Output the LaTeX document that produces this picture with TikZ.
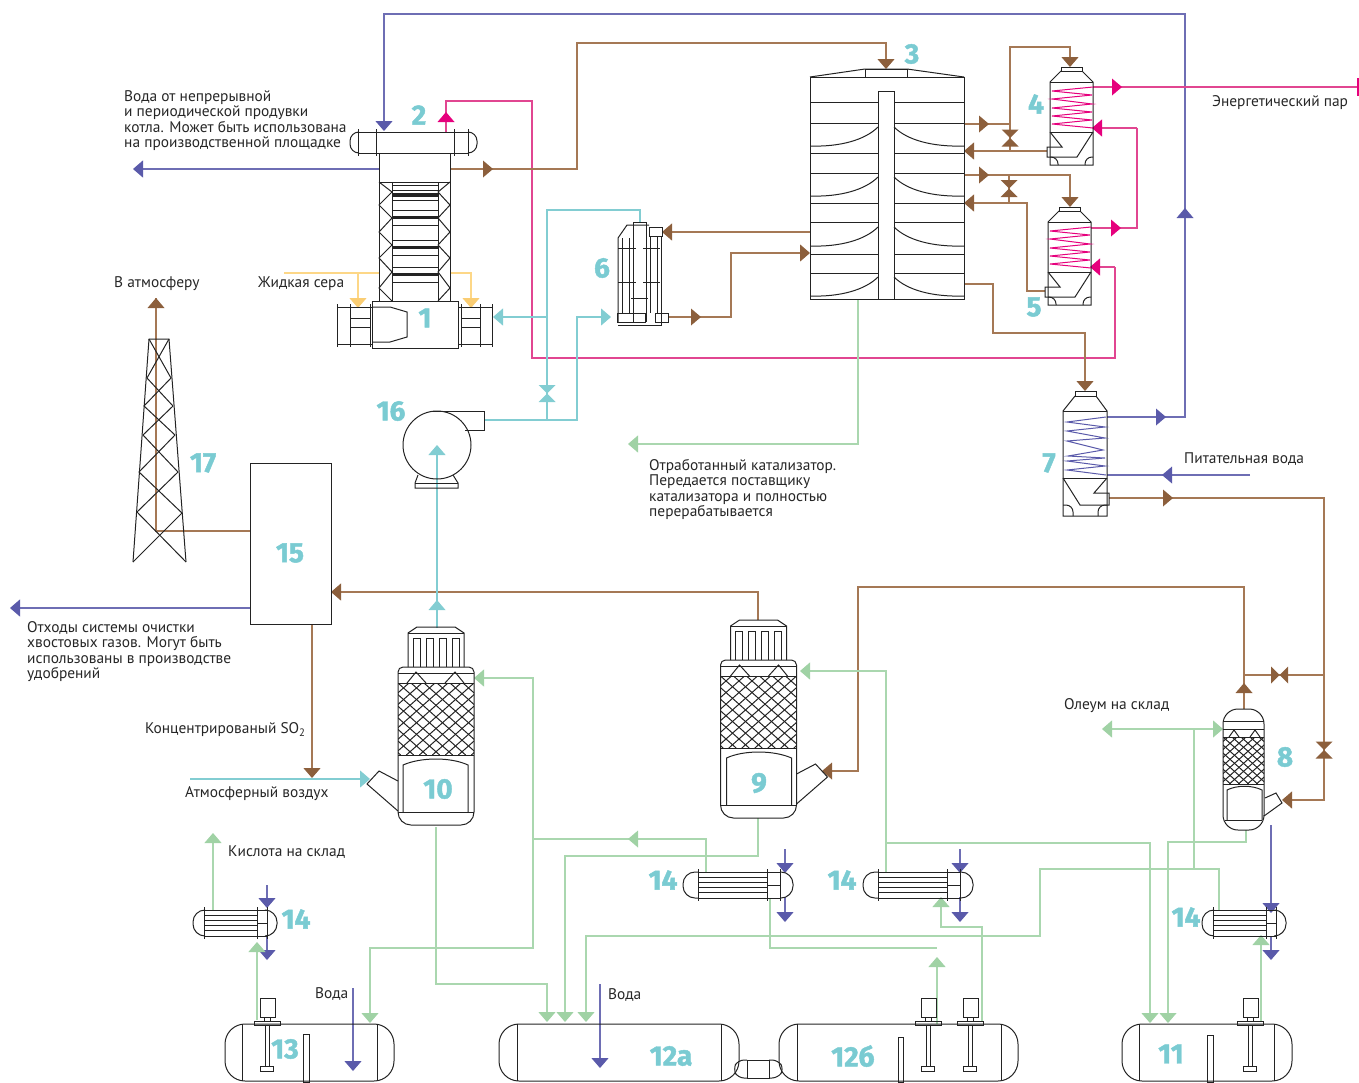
\documentclass[tikz,border=0pt]{standalone}
\usepackage{fontspec}
\setmainfont{PT Sans}
\newfontfamily\numfont[BoldFeatures={FakeBold=1.6}]{Fira Sans}
\usepackage{tikz}
\usetikzlibrary{arrows.meta}
\usepackage{xcolor}
\definecolor{NumTeal}{RGB}{122,203,210}
\definecolor{LineTeal}{RGB}{130,205,210}
\definecolor{LineBrown}{RGB}{165,120,85}
\definecolor{TipBrown}{RGB}{140,95,60}
\definecolor{LineBlue}{RGB}{110,110,180}
\definecolor{TipBlue}{RGB}{90,90,170}
\definecolor{LinePink}{RGB}{225,70,145}
\definecolor{TipPink}{RGB}{230,0,125}
\definecolor{LineGreen}{RGB}{170,215,175}
\definecolor{TipGreen}{RGB}{160,210,165}
\definecolor{LineYellow}{RGB}{253,215,135}
\definecolor{TipYellow}{RGB}{250,205,115}
\definecolor{Metal}{RGB}{35,35,35}

\newcommand{\tri}[3]{\fill[#1, shift={(#2)}, rotate=#3] (0,0) -- (-10,-8.5) -- (-10,8.5) -- cycle;}
\newcommand{\valve}[3]{\fill[#1, shift={(#2)}, rotate=#3] (0,0) -- (-8.5,-8.5) -- (-8.5,8.5) -- cycle (0,0) -- (8.5,-8.5) -- (8.5,8.5) -- cycle;}
\newcommand{\mesh}[5]{%
  \begin{scope}
    \clip (#1,#2) rectangle (#3,#4);
    \foreach \k in {-14,...,14} {
      \draw[metal] ({#1+\k*#5},#2) -- ({#1+\k*#5+(#4-#2)*1.12},#4);
      \draw[metal] ({#3+\k*#5},#2) -- ({#3+\k*#5-(#4-#2)*1.12},#4);
    }
  \end{scope}}
\newcommand{\coiltower}[2]{%
  \begin{scope}[shift={(#1,#2)}]
    \draw[metal] (11,0) rectangle (32,4);
    \draw[metal] (11,4) -- (0,15) -- (0,98) -- (43,98) -- (43,15) -- (32,4);
    \draw[metal] (0,15) -- (43,15) (0,65) -- (43,65);
    \draw[metal] (0,65) -- (12,80) -- (-3,80) -- (-3,90) -- (27,90) -- (43,65);
    \draw[metal, rounded corners=7] (0,90) -- (8,90) -- (8,98);
    \draw[metal, rounded corners=7] (43,90) -- (35,90) -- (35,98);
    \draw[TipPink, line width=1pt] (43,20) -- (2,24) -- (42,28) -- (2,32) -- (42,37) -- (2,41) -- (42,45) -- (2,49) -- (42,53) -- (2,57) -- (43,61);
  \end{scope}}
\newcommand{\absorber}[1]{%
  \begin{scope}[#1]
    \draw[metal] (-28,-158) -- (-28,-192) -- (-19,-198) -- (19,-198) -- (28,-192) -- (28,-158);
    \draw[metal] (-28,-192) -- (28,-192);
    \foreach \a/\b in {-23/-16,-10/-3,3/10,16/23} {
      \draw[metal] (\a,-158) -- (\a,-187) -- (\b,-187) -- (\b,-158);
    }
    \draw[metal, rounded corners=5] (-38,-100) -- (-38,-158) -- (38,-158) -- (38,-100);
    \draw[metal, rounded corners=13] (-38,-100) -- (-38,0) -- (38,0) -- (38,-100);
    \draw[metal] (-38,-152) -- (38,-152) (-38,-142) -- (38,-142) (-38,-70) -- (38,-70) (-38,-13) -- (38,-13);
    \draw[metal] (-29,-142) -- (-20,-153) -- (-10,-142) (9,-142) -- (19,-153) -- (28,-142);
    \mesh{-38}{-142}{38}{-70}{13}
    \draw[metal] (-33,-13) -- (-33,-60) .. controls (-15,-68) and (15,-68) .. (32,-60) -- (32,-13);
    \draw[metal] (-38,-44) -- (-57,-54) -- (-69,-41) -- (-38,-14);
  \end{scope}}
\newcommand{\exchanger}[6]{%
  \draw[metal, rounded corners=12] (#2,#6) -- (#1,#6) -- (#1,#6+26) -- (#2,#6+26);
  \draw[metal, rounded corners=12] (#4,#6) -- (#5,#6) -- (#5,#6+26) -- (#4,#6+26);
  \draw[metal] (#2,#6) -- (#4,#6) (#2,#6+26) -- (#4,#6+26);
  \draw[metal] (#2,#6-3) -- (#2,#6+29) (#3,#6-3) -- (#3,#6+29) (#4,#6-3) -- (#4,#6+29);
  \foreach \d in {5,10,15,20} {\draw[metal] (#2,#6+\d) -- (#3,#6+\d);}
  \draw[metal] (#3,#6+13) -- (#4,#6+13);}
\newcommand{\tank}[4]{%
  \draw[metal, rounded corners=20] (#1,1024) rectangle (#4,1081);
  \draw[metal] (#2,1024) -- (#2,1081) (#3,1024) -- (#3,1081);}
\newcommand{\stirrer}[1]{%
  \draw[metal] (#1-7,998) rectangle (#1+8,1017);
  \draw[metal] (#1-3,1017) rectangle (#1+3,1021);
  \draw[metal] (#1-13,1021) rectangle (#1+13,1025);
  \draw[metal] (#1-2,1025) rectangle (#1+2,1066);
  \draw[metal] (#1-6.5,1066) rectangle (#1+6.5,1071);}

\begin{document}
\begin{tikzpicture}[x=1pt, y=-1pt,
    metal/.style={draw=Metal, line width=1pt},
    bluepipe/.style={draw=LineBlue, line width=1.1pt, -{Triangle[length=10pt,width=17pt,color=TipBlue]}},
    pinkpipe/.style={draw=LinePink, line width=1.1pt, -{Triangle[length=10pt,width=17pt,color=TipPink]}},
    brownpipe/.style={draw=LineBrown, line width=1.1pt, -{Triangle[length=10pt,width=17pt,color=TipBrown]}},
    tealpipe/.style={draw=LineTeal, line width=1.1pt, -{Triangle[length=10pt,width=17pt,color=LineTeal]}},
    greenpipe/.style={draw=LineGreen, line width=1.1pt, -{Triangle[length=10pt,width=17pt,color=TipGreen]}},
    yellowpipe/.style={draw=LineYellow, line width=1.1pt, -{Triangle[length=10pt,width=17pt,color=TipYellow]}},
    numlabel/.style={font=\numfont\bfseries\fontsize{28}{28}\selectfont, text=NumTeal, inner sep=0pt},
    note/.style={font=\fontsize{15.4}{15.6}\selectfont, align=left, anchor=west, inner sep=0pt, text=black!85}
]
    \useasboundingbox (0,0) rectangle (1359,1082);

    \coordinate (b7out) at (1107,417);
    \coordinate (b2in) at (384,131);
    \coordinate (b2out) at (379,169);
    \coordinate (bdrain) at (133,169);
    \coordinate (bfeed) at (1250,475);
    \coordinate (b7in) at (1107,475);
    \coordinate (b15out) at (250,608);
    \coordinate (bwaste) at (10,608);
    \coordinate (p4out) at (1093,87);
    \coordinate (psteam) at (1358,87);
    \coordinate (p4in) at (1092,128);
    \coordinate (p5out) at (1091,228);
    \coordinate (p5in) at (1090,267);
    \coordinate (p2out) at (446,132);
    \coordinate (br2out) at (450,169);
    \coordinate (br3in) at (886,69);
    \coordinate (br3a) at (964,124);
    \coordinate (br4in) at (1070,67);
    \coordinate (br4out) at (1047,151);
    \coordinate (br3b) at (964,151);
    \coordinate (br3c) at (964,175);
    \coordinate (br5in) at (1070,207);
    \coordinate (br5out) at (1045,291);
    \coordinate (br3d) at (964,203);
    \coordinate (br3e) at (964,284);
    \coordinate (br7in) at (1085,391);
    \coordinate (br3f) at (810,232);
    \coordinate (br6in) at (662,232);
    \coordinate (br6out) at (668,317);
    \coordinate (br3g) at (810,253);
    \coordinate (br7out) at (1109,498);
    \coordinate (br8a) at (1282,800);
    \coordinate (br8top) at (1244,709);
    \coordinate (br9b) at (823,771);
    \coordinate (br9top) at (758,620);
    \coordinate (br15in) at (331,592);
    \coordinate (br15out) at (312,624);
    \coordinate (br10a) at (312,778);
    \coordinate (br15b) at (250,531);
    \coordinate (bratm) at (156,298);
    \coordinate (t10out) at (437,628);
    \coordinate (t16in) at (437,445);
    \coordinate (t16out) at (484,420);
    \coordinate (t6a) at (611,317);
    \coordinate (t6b) at (640,223);
    \coordinate (t1in) at (493,317);
    \coordinate (tj) at (547,317);
    \coordinate (tair) at (190,779);
    \coordinate (t10in) at (370,779);
    \coordinate (ysrc) at (284,273);
    \coordinate (y1a) at (358,308);
    \coordinate (y2out) at (450,273);
    \coordinate (y1b) at (471,308);
    \coordinate (g3out) at (858,299);
    \coordinate (gcat) at (628,444);
    \coordinate (gj10) at (533,839);
    \coordinate (g10in) at (474,678);
    \coordinate (g13in) at (370,1023);
    \coordinate (gex1) at (706,872);
    \coordinate (g10out) at (436,827);
    \coordinate (g12a) at (547,1022);
    \coordinate (g9out) at (758,818);
    \coordinate (g12b) at (565,1022);
    \coordinate (g12c) at (586,1022);
    \coordinate (gex4) at (1219,910);
    \coordinate (gex1b) at (770,898);
    \coordinate (gjoin) at (937,948);
    \coordinate (gt12a) at (937,1024);
    \coordinate (gt12tip) at (937,957);
    \coordinate (gt12b) at (982,1021);
    \coordinate (gex2in) at (941,897);
    \coordinate (gex2) at (886,872);
    \coordinate (g9in) at (800,671);
    \coordinate (gj9) at (886,843);
    \coordinate (g11a) at (1150,1023);
    \coordinate (g8out) at (1246,830);
    \coordinate (g11b) at (1168,1023);
    \coordinate (gj8) at (1194,869);
    \coordinate (g8in) at (1223,729);
    \coordinate (gj8b) at (1194,729);
    \coordinate (goleum) at (1102,729);
    \coordinate (gt11) at (1261,1021);
    \coordinate (gex11) at (1261,935);
    \coordinate (gt13) at (257,1020);
    \coordinate (gex13) at (257,942);
    \coordinate (gex13b) at (213,910);
    \coordinate (gacid) at (213,833);

    \draw[bluepipe, -] (b7out) -| (1185,14) -| (384,118);
    \draw[bluepipe] (384,118) -- (b2in);
    \draw[bluepipe] (b2out) -- (bdrain);
    \draw[bluepipe, -] (bfeed) -- (b7in);
    \draw[bluepipe] (b15out) -- (bwaste);
    \draw[bluepipe] (785,849) -- (785,873);
    \draw[bluepipe] (785,897) -- (785,922);
    \draw[bluepipe] (960,849) -- (960,873);
    \draw[bluepipe] (960,897) -- (960,922);
    \draw[bluepipe] (1271,825) -- (1271,913);
    \draw[bluepipe] (1271,936) -- (1271,960);
    \draw[bluepipe] (267,885) -- (267,908);
    \draw[bluepipe] (267,936) -- (267,960);
    \draw[bluepipe] (353,988) -- (353,1071);
    \draw[bluepipe] (600,984) -- (600,1068);
    \tri{TipBlue}{1166,417}{0}
    \tri{TipBlue}{1185,208}{90}
    \tri{TipBlue}{1162,475}{180}

    \draw[pinkpipe, -] (p4out) -- (psteam);
    \draw[TipPink, line width=1.1pt] (1358,78) -- (1358,96);
    \draw[pinkpipe] (1137,128) -- (p4in);
    \draw[pinkpipe, -] (1137,128) |- (p5out);
    \draw[pinkpipe] (1115,267) -- (p5in);
    \draw[pinkpipe, -] (1115,267) |- (532,358) |- (446,101) -- (p2out);
    \tri{TipPink}{1122,87}{0}
    \tri{TipPink}{1121,228}{0}
    \tri{TipPink}{446,112}{90}

    \draw[brownpipe, -] (br2out) -| (577,43) -| (886,60);
    \draw[brownpipe] (886,60) -- (br3in);
    \draw[brownpipe, -] (br3a) -| (1010,47) -| (1070,58);
    \draw[brownpipe] (1070,58) -- (br4in);
    \draw[brownpipe] (br4out) -- (br3b);
    \draw[brownpipe, -] (1010,124) -- (1010,151);
    \draw[brownpipe] (br3c) -| (br5in);
    \draw[brownpipe, -] (1009,175) -- (1009,203);
    \draw[brownpipe] (br5out) -| (1027,203) -- (br3d);
    \draw[brownpipe] (br3e) -| (993,333) -| (br7in);
    \draw[brownpipe] (br3f) -- (br6in);
    \draw[brownpipe] (br6out) -| (731,253) -- (br3g);
    \draw[brownpipe] (br7out) -| (1324,800) -- (br8a);
    \draw[brownpipe, -] (br8top) |- (858,587) |- (br9b);
    \draw[brownpipe, -] (1324,675) -- (1244,675);
    \draw[brownpipe] (br9top) |- (br15in);
    \draw[brownpipe] (br15out) -- (br10a);
    \draw[LineBrown, line width=1.1pt] (br15b) -| (bratm);
    \tri{TipBrown}{156,298}{90}
    \tri{TipBrown}{493,169}{0}
    \tri{TipBrown}{989,124}{0}
    \tri{TipBrown}{989,175}{0}
    \tri{TipBrown}{701,317}{0}
    \tri{TipBrown}{1173,498}{0}
    \tri{TipBrown}{1244,683}{90}
    \tri{TipBrown}{822,771}{180}
    \valve{TipBrown}{1010,138}{90}
    \valve{TipBrown}{1009,188.5}{90}
    \valve{TipBrown}{1324,750}{90}
    \valve{TipBrown}{1279.5,675}{0}

    \draw[tealpipe, -] (t10out) -- (437,456);
    \draw[tealpipe] (437,456) -- (t16in);
    \draw[tealpipe] (t16out) -| (577,317) -- (t6a);
    \draw[tealpipe, -] (547,420) |- (640,210) -- (t6b);
    \draw[tealpipe] (tj) -- (t1in);
    \draw[tealpipe] (tair) -- (t10in);
    \tri{LineTeal}{437,600}{90}
    \valve{LineTeal}{547,393.5}{90}

    \draw[yellowpipe, -] (ysrc) -- (379,273);
    \draw[yellowpipe] (358,273) -- (y1a);
    \draw[yellowpipe] (y2out) -| (y1b);

    \draw[greenpipe] (g3out) |- (gcat);
    \draw[greenpipe] (gj10) |- (g10in);
    \draw[greenpipe] (gj10) -- (533,948) -| (g13in);
    \draw[greenpipe, -] (gj10) -| (gex1);
    \draw[greenpipe] (g10out) -- (436,984) -| (g12a);
    \draw[greenpipe] (g9out) -- (758,856) -| (g12b);
    \draw[greenpipe] (gex4) |- (1040,869) |- (586,936) -- (g12c);
    \draw[greenpipe, -] (gex1b) |- (gjoin);
    \draw[greenpipe] (gt12a) -- (gt12tip);
    \draw[greenpipe] (gt12b) |- (941,927) -- (gex2in);
    \draw[greenpipe] (gex2) |- (g9in);
    \draw[greenpipe] (gj9) -| (g11a);
    \draw[greenpipe] (g8out) -- (1246,842) -| (g11b);
    \draw[greenpipe] (gj8) |- (g8in);
    \draw[greenpipe] (gj8b) -- (goleum);
    \draw[greenpipe] (gt11) -- (gex11);
    \draw[greenpipe] (gt13) -- (gex13);
    \draw[greenpipe] (gex13b) -- (gacid);
    \tri{TipGreen}{628,839}{180}

    \draw[metal] (372,301) rectangle (458,348);
    \draw[metal] (372,307) -- (390,307) -- (407,312) -- (407,337) -- (390,342) -- (372,342);
    \draw[metal] (337,307) -- (372,307) (337,344) -- (372,344) (350,318) -- (370,318) (350,327) -- (370,327);
    \draw[metal] (337,304) -- (337,347) (350,304) -- (350,347) (370,304) -- (370,347);
    \draw[metal] (458,307) -- (492,307) (458,344) -- (492,344) (461,318) -- (480,318) (461,327) -- (480,327);
    \draw[metal] (461,304) -- (461,347) (480,304) -- (480,347) (492,304) -- (492,347);

    \draw[metal, rounded corners=9] (358,132) -- (350,132) -- (350,153) -- (358,153);
    \draw[metal, rounded corners=9] (468,132) -- (477,132) -- (477,153) -- (468,153);
    \draw[metal] (358,132) -- (468,132) (358,153) -- (468,153);
    \draw[metal] (358,129) -- (358,156) (376,129) -- (376,156) (454,129) -- (454,156) (468,129) -- (468,156);
    \draw[metal] (379,153) -- (379,301) (450,153) -- (450,301) (379,182) -- (450,182);
    \draw[metal] (392,182) -- (392,301) (438,182) -- (438,301);
    \draw[metal] (379,182) -- (392,192) -- (379,205) -- (392,218) -- (379,232) -- (392,245) -- (379,258) -- (392,272) -- (379,288) -- (392,301);
    \draw[metal] (450,182) -- (438,192) -- (450,205) -- (438,218) -- (450,232) -- (438,245) -- (450,258) -- (438,272) -- (450,288) -- (438,301);
    \foreach \t in {185,190,200,210,225,240,255,267,282} {
        \draw[metal] (392,\t) -- (438,\t);
    }
    \foreach \t in {195,217.5,247.5,274.5} {
        \draw[metal, line width=3.5pt] (392,\t) -- (438,\t);
    }

    \draw[metal] (810,77) rectangle (964,299);
    \draw[metal] (810,77) -- (865,69) -- (907,69) -- (964,77);
    \draw[metal] (865,69) rectangle (907,77);
    \draw[metal] (878,91) rectangle (894,299);
    \foreach \t in {102,123,153,173,203,222,254,273} {
        \draw[metal] (810,\t) -- (878,\t) (894,\t) -- (964,\t);
    }
    \foreach \t in {127,177,227,277} {
        \draw[metal] (878,\t) .. controls (865,\t+13) and (840,\t+20) .. (810,\t+19);
        \draw[metal] (894,\t) .. controls (907,\t+13) and (932,\t+20) .. (964,\t+19);
    }

    \coiltower{1050}{67}
    \coiltower{1048}{207}

    \draw[metal] (618,322) -- (618,238) -- (627,225) -- (649,225);
    \draw[metal] (661,236) -- (661,325) -- (618,325);
    \draw[metal] (649,227) rectangle (662,236);
    \draw[metal] (633,322) -- (633,222) -- (646,222) -- (646,322);
    \draw[metal] (617,313) rectangle (645,322);
    \draw[metal] (655,313) rectangle (668,322);
    \draw[metal] (622,238) -- (622,313) (629,238) -- (629,313) (650,236) -- (650,313) (657,236) -- (657,313);
    \draw[metal] (618,248) -- (636,248) (643,248) -- (660,248) (618,282) -- (636,282) (643,282) -- (660,282) (631,298) -- (648,298);

    \draw[metal] (437,445) circle[radius=34];
    \draw[metal] (433,411) -- (484,411) -- (484,430) -- (465,430);
    \draw[metal] (418,475) -- (415,483) -- (415,488) -- (458,488) -- (458,483) -- (453,475);
    \draw[metal] (415,483) -- (458,483);

    \draw[metal] (133,562) -- (149,339) -- (169,339) -- (186,562);
    \draw[metal] (149,339) -- (171,378) -- (144,406) -- (175,435) -- (139,472) -- (182,513) -- (133,562);
    \draw[metal] (169,339) -- (147,378) -- (173,406) -- (143,435) -- (178,472) -- (137,512) -- (186,562);

    \draw[metal] (250,463) rectangle (331,624);

    \absorber{shift={(436,825)}}
    \absorber{shift={(758.5,818)}, xscale=-1}

    \draw[metal, rounded corners=15] (1223,770) -- (1223,709) -- (1264,709) -- (1264,770);
    \draw[metal, rounded corners=15] (1223,770) -- (1223,830) -- (1264,830) -- (1264,770);
    \draw[metal] (1223,721) -- (1264,721) (1223,729) -- (1264,729) (1223,737) -- (1264,737) (1223,784) -- (1264,784) (1225,820) -- (1262,820);
    \draw[metal] (1229,737) -- (1234,730) -- (1239,737) (1250,737) -- (1255,730) -- (1260,737);
    \mesh{1223}{737}{1264}{784}{9}
    \draw[metal] (1227,820) -- (1227,790) .. controls (1237,785) and (1252,785) .. (1262,790) -- (1262,820);
    \draw[metal] (1265,798) -- (1276,793) -- (1282,803) -- (1264,816);

    \draw[metal] (1075,391) rectangle (1096,396);
    \draw[metal] (1075,396) -- (1063,411) -- (1063,516) -- (1107,516) -- (1107,411) -- (1096,396);
    \draw[metal] (1063,411) -- (1107,411) (1063,478) -- (1107,478);
    \draw[metal] (1063,478) -- (1080,505) -- (1109,505) -- (1109,493) -- (1094,493) -- (1107,478);
    \draw[metal, rounded corners=7] (1063,505) -- (1073,505) -- (1073,516);
    \draw[metal, rounded corners=7] (1107,505) -- (1098,505) -- (1098,516);
    \draw[TipBlue, line width=1pt] (1106,417) -- (1067,422) -- (1105,427) -- (1067,431) -- (1105,438) -- (1067,441) -- (1103,450) -- (1068,456) -- (1105,458) -- (1067,461) -- (1105,466) -- (1067,470) -- (1106,475);

    \exchanger{683}{698}{767}{780}{793}{872}
    \exchanger{863}{878}{947}{960}{973}{872}
    \exchanger{193}{204}{257}{267}{277}{910}
    \exchanger{1202}{1213}{1266}{1276}{1286}{910}

    \tank{225}{242}{377}{394}
    \draw[metal] (303,1034) rectangle (309,1082);
    \stirrer{267}

    \tank{499}{517}{721}{739}
    \draw[metal, rounded corners=6] (747,1060) -- (738,1060) -- (733,1069) -- (738,1078) -- (747,1078);
    \draw[metal, rounded corners=6] (769,1060) -- (778,1060) -- (784,1069) -- (778,1078) -- (769,1078);
    \draw[metal] (747,1060) rectangle (769,1078);
    \tank{779}{797}{1001}{1018}
    \draw[metal] (898,1037) rectangle (903,1082);
    \stirrer{928}
    \stirrer{970}

    \tank{1122}{1139}{1274}{1292}
    \draw[metal] (1207,1035) rectangle (1213,1082);
    \stirrer{1250}

    \node[numlabel] (n1) at (425,318) {1};
    \node[numlabel] (n2) at (419,115) {2};
    \node[numlabel] (n3) at (912,54) {3};
    \node[numlabel] (n4) at (1036,104) {4};
    \node[numlabel] (n5) at (1034,307) {5};
    \node[numlabel] (n6) at (602,268) {6};
    \node[numlabel] (n7) at (1049,463) {7};
    \node[numlabel] (n8) at (1285,757) {8};
    \node[numlabel] (n9) at (759,783) {9};
    \node[numlabel] (n10) at (438,789) {10};
    \node[numlabel] (n11) at (1171,1054) {11};
    \node[numlabel] (n12a) at (671,1056) {12а};
    \node[numlabel] (n12b) at (853,1056) {12б};
    \node[numlabel] (n13) at (285,1049) {13};
    \node[numlabel] (n14a) at (663,880) {14};
    \node[numlabel] (n14b) at (842,880) {14};
    \node[numlabel] (n14c) at (296,919) {14};
    \node[numlabel] (n14d) at (1186,917) {14};
    \node[numlabel] (n15) at (290,553) {15};
    \node[numlabel] (n16) at (391,411) {16};
    \node[numlabel] (n17) at (203,463) {17};

    \node[note] (blowdown) at (124,120.5) {Вода от непрерывной\\и периодической продувки\\котла. Может быть использована\\на производственной площадке};
    \node[note] (steam) at (1212,103) {Энергетический пар};
    \node[note] (atm) at (114,284) {В атмосферу};
    \node[note] (sulfur) at (258,284) {Жидкая сера};
    \node[note] (spent) at (649,489.5) {Отработанный катализатор.\\Передается поставщику\\катализатора и полностью\\перерабатывается};
    \node[note] (feed) at (1184,459) {Питательная вода};
    \node[note] (oleum) at (1064,706) {Олеум на склад};
    \node[note] (waste) at (27,651.5) {Отходы системы очистки\\хвостовых газов. Могут быть\\использованы в производстве\\удобрений};
    \node[note] (so2) at (145,730) {Концентрированый SO\textsubscript{2}};
    \node[note] (air) at (185,794) {Атмосферный воздух};
    \node[note] (acid) at (228,852) {Кислота на склад};
    \node[note] (water1) at (315,994) {Вода};
    \node[note] (water2) at (608,995) {Вода};
\end{tikzpicture}
\end{document}
